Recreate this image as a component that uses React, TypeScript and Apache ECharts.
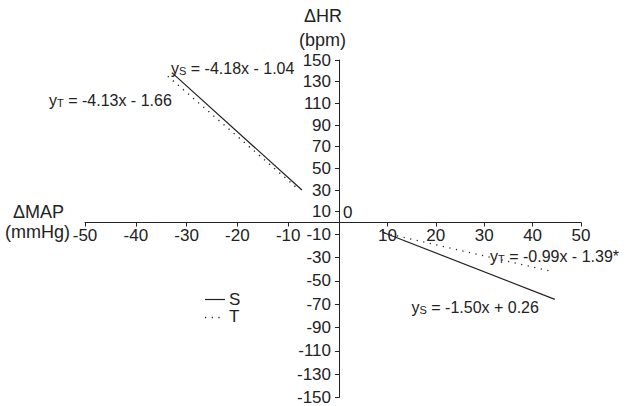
import React, { useEffect, useRef } from "react";
import * as echarts from "echarts";

// Tick labels
const xTicksNeg = [-50, -40, -30, -20, -10];
const xTicksPos = [10, 20, 30, 40, 50];
const yTicksPos = [10, 30, 50, 70, 90, 110, 130, 150];
const yTicksNeg = [-10, -30, -50, -70, -90, -110, -130, -150];

// Regression lines (ΔMAP, ΔHR) – decreases in MAP (upper-left quadrant)
const decSX = [-32.9, -7.3];
const decSY = [138.3, 30.0];
const decTX = [-33.7, -8.3];
const decTY = [135.0, 32.0];
// increases in MAP (lower-right quadrant)
const incSX = [8.9, 44.6];
const incSY = [-8.1, -65.9];
const incTX = [9.3, 44.1];
const incTY = [-8.9, -42.1];

const seriesNames = ["S", "T"];
const equations = [
  { sub: "S", rest: " = -4.18x - 1.04" },
  { sub: "T", rest: " = -4.13x - 1.66" },
  { sub: "T", rest: " = -0.99x - 1.39*" },
  { sub: "S", rest: " = -1.50x + 0.26" },
];

const FONT = "'Liberation Sans', Arial, Helvetica, sans-serif";
const INK = "#222";

const zip = (xs: number[], ys: number[]) => xs.map((x, i) => [x, ys[i]]);

const richEq = {
  m: { fontSize: 16, lineHeight: 16, fontFamily: FONT, color: INK, verticalAlign: "top" },
  s: {
    fontSize: 11,
    lineHeight: 11,
    fontFamily: FONT,
    color: INK,
    verticalAlign: "bottom",
    padding: [10, 0, 0, 0],
  },
};

const eqText = (e: { sub: string; rest: string }) => `{m|y}{s|${e.sub}}{m|${e.rest}}`;

export default function App() {
  const ref = useRef<HTMLDivElement>(null);
  useEffect(() => {
    const chart = echarts.init(ref.current!, null, { renderer: "svg" });
    const axisLine = { show: true, onZero: false, lineStyle: { color: INK, width: 1 } };
    const labelStyle = { color: INK, fontSize: 17, fontFamily: FONT };
    const solid = { color: INK, width: 1.2, type: "solid" as const };
    const dotted = { color: INK, width: 1.4, type: [1.2, 5.5] as any };
    const eqPos = [
      { left: 171, top: 55 },
      { left: 49, top: 87 },
      { left: 490, top: 243.5 },
      { left: 411.5, top: 294 },
    ];
    const title = (text: string, left: number, top: number) => ({
      type: "text",
      left,
      top,
      style: { text, fontSize: 18, lineHeight: 18, fontFamily: FONT, fill: INK },
    });
    const option: any = {
      animation: false,
      backgroundColor: "#fff",
      textStyle: { fontFamily: FONT },
      grid: [
        { left: 85, top: 60, width: 254, height: 162.5 },
        { left: 339, top: 222.5, width: 242, height: 176.5 },
        { left: 339, top: 60, width: 242, height: 162.5 },
      ],
      xAxis: [
        {
          gridIndex: 0,
          type: "value",
          min: -50,
          max: 0,
          position: "bottom",
          axisLine,
          splitLine: { show: false },
          axisTick: { show: true, length: 4, customValues: xTicksNeg, lineStyle: { color: INK } },
          axisLabel: { ...labelStyle, margin: 4, customValues: xTicksNeg },
        },
        {
          gridIndex: 1,
          type: "value",
          min: 0,
          max: 50,
          position: "top",
          axisLine,
          splitLine: { show: false },
          axisTick: { show: true, inside: true, length: 4, customValues: xTicksPos, lineStyle: { color: INK } },
          axisLabel: { ...labelStyle, inside: true, margin: 4, customValues: xTicksPos },
        },
        { gridIndex: 2, type: "value", min: 0, max: 50, show: false },
      ],
      yAxis: [
        { gridIndex: 0, type: "value", min: 0, max: 150, show: false },
        {
          gridIndex: 1,
          type: "value",
          min: -150,
          max: 0,
          position: "left",
          axisLine,
          splitLine: { show: false },
          axisTick: { show: true, length: 4, customValues: yTicksNeg, lineStyle: { color: INK } },
          axisLabel: { ...labelStyle, margin: 8, customValues: yTicksNeg },
        },
        {
          gridIndex: 2,
          type: "value",
          min: 0,
          max: 150,
          position: "left",
          axisLine,
          splitLine: { show: false },
          axisTick: { show: true, length: 4, customValues: yTicksPos, lineStyle: { color: INK } },
          axisLabel: { ...labelStyle, margin: 8, customValues: yTicksPos },
        },
      ],
      series: [
        { type: "line", name: seriesNames[0], xAxisIndex: 0, yAxisIndex: 0, data: zip(decSX, decSY), symbol: "none", lineStyle: solid, itemStyle: { color: INK } },
        { type: "line", name: seriesNames[1], xAxisIndex: 0, yAxisIndex: 0, data: zip(decTX, decTY), symbol: "none", lineStyle: dotted, itemStyle: { color: INK } },
        { type: "line", name: seriesNames[0], xAxisIndex: 1, yAxisIndex: 1, data: zip(incSX, incSY), symbol: "none", lineStyle: solid, itemStyle: { color: INK } },
        { type: "line", name: seriesNames[1], xAxisIndex: 1, yAxisIndex: 1, data: zip(incTX, incTY), symbol: "none", lineStyle: dotted, itemStyle: { color: INK } },
      ],
      graphic: [
        title("ΔHR", 304, 7),
        title("(bpm)", 299, 31),
        title("ΔMAP", 13, 203),
        title("(mmHg)", 5, 222.5),
        { type: "text", left: 343, top: 203.5, style: { text: "0", fontSize: 17, fontFamily: FONT, fill: INK } },
        // legend
        { type: "line", shape: { x1: 205, y1: 299.5, x2: 225, y2: 299.5 }, style: { stroke: INK, lineWidth: 1.2 } },
        { type: "text", left: 229, top: 290.5, style: { text: seriesNames[0], fontSize: 17, fontFamily: FONT, fill: INK } },
        { type: "line", shape: { x1: 205, y1: 317.5, x2: 225, y2: 317.5 }, style: { stroke: INK, lineWidth: 1.4, lineDash: [1.2, 5.5] } },
        { type: "text", left: 229, top: 308, style: { text: seriesNames[1], fontSize: 17, fontFamily: FONT, fill: INK } },
        ...equations.map((e, i) => ({
          type: "text",
          left: eqPos[i].left,
          top: eqPos[i].top,
          style: { text: eqText(e), rich: richEq, fill: INK },
        })),
      ],
    };
    chart.setOption(option);
    return () => chart.dispose();
  }, []);
  return (
    <div
      ref={ref}
      style={{ position: "fixed", left: 0, top: 0, width: 630, height: 406, background: "#fff" }}
    />
  );
}
